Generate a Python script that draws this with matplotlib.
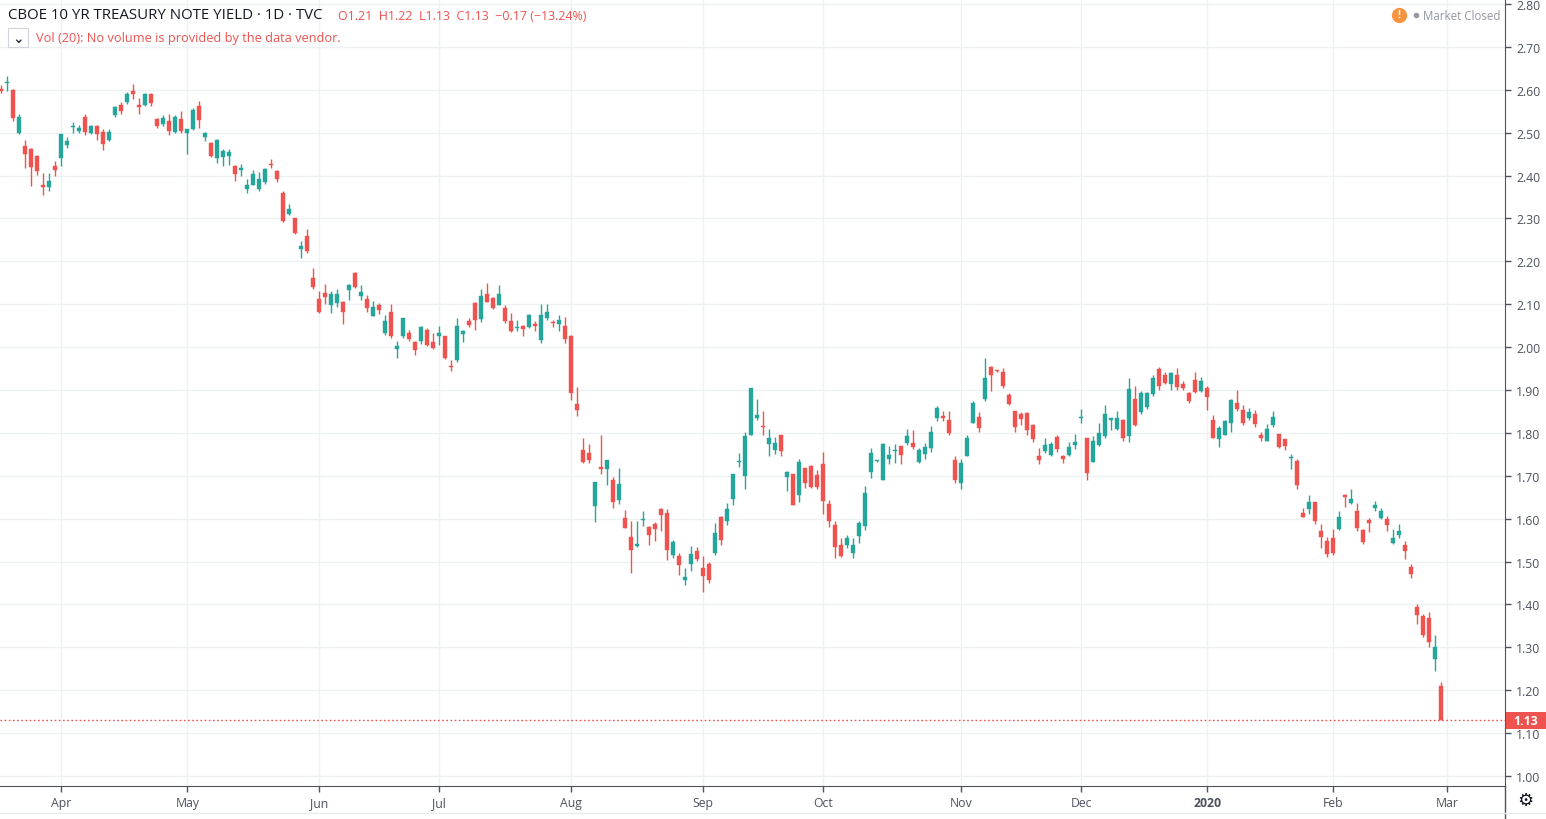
import matplotlib
matplotlib.use("Agg")
import matplotlib.pyplot as plt
import numpy as np

# ---------------- data (daily candles, Mar 2019 - Feb 28 2020) ----------------
opens = [2.602,2.615,2.600,2.500,2.469,2.461,2.446,2.379,2.374,2.422,
         2.440,2.472,2.513,2.505,2.536,2.500,2.516,2.502,2.482,2.540,
         2.565,2.571,2.598,2.564,2.564,2.591,2.531,2.521,2.526,2.502,
         2.531,2.500,2.508,2.562,2.490,2.477,2.440,2.443,2.445,2.422,
         2.412,2.368,2.378,2.368,2.385,2.427,2.410,2.360,2.311,2.300,
         2.229,2.259,2.161,2.112,2.126,2.097,2.103,2.105,2.134,2.172,
         2.120,2.112,2.073,2.097,2.033,2.083,1.995,2.025,2.033,2.012,
         2.015,2.040,2.012,2.025,2.025,1.956,1.970,2.031,2.062,2.103,
         2.066,2.123,2.114,2.098,2.092,2.060,2.044,2.050,2.048,2.053,
         2.017,2.069,2.058,2.055,2.050,2.027,1.867,1.760,1.753,1.630,
         1.720,1.716,1.691,1.644,1.601,1.557,1.537,1.596,1.580,1.587,
         1.623,1.613,1.516,1.514,1.457,1.495,1.525,1.485,1.494,1.520,
         1.605,1.594,1.647,1.732,1.700,1.794,1.834,1.817,1.775,1.759,
         1.795,1.697,1.704,1.654,1.718,1.722,1.701,1.728,1.634,1.586,
         1.539,1.539,1.521,1.559,1.584,1.708,1.734,1.691,1.740,1.757,
         1.769,1.777,1.777,1.732,1.750,1.765,1.834,1.839,1.829,1.736,
         1.683,1.746,1.823,1.837,1.880,1.953,1.945,1.943,1.888,1.851,
         1.843,1.847,1.819,1.747,1.758,1.749,1.790,1.745,1.749,1.772,
         1.834,1.788,1.731,1.772,1.793,1.831,1.809,1.831,1.793,1.880,
         1.848,1.860,1.891,1.950,1.935,1.913,1.935,1.915,1.894,1.924,
         1.898,1.905,1.831,1.785,1.796,1.822,1.870,1.853,1.834,1.845,
         1.796,1.781,1.818,1.798,1.786,1.741,1.734,1.613,1.623,1.638,
         1.572,1.549,1.556,1.577,1.656,1.637,1.619,1.573,1.598,1.626,
         1.601,1.600,1.543,1.562,1.539,1.487,1.395,1.374,1.369,1.272,
         1.210]
highs = [2.612,2.633,2.602,2.544,2.482,2.464,2.449,2.405,2.405,2.433,
         2.498,2.490,2.525,2.519,2.544,2.519,2.517,2.509,2.508,2.562,
         2.571,2.595,2.614,2.580,2.592,2.592,2.533,2.540,2.544,2.540,
         2.550,2.509,2.558,2.574,2.502,2.478,2.485,2.463,2.463,2.425,
         2.428,2.391,2.414,2.408,2.418,2.439,2.412,2.363,2.334,2.301,
         2.247,2.276,2.184,2.130,2.147,2.130,2.136,2.107,2.147,2.175,
         2.145,2.122,2.108,2.103,2.074,2.100,2.014,2.069,2.041,2.014,
         2.050,2.045,2.033,2.049,2.025,1.970,2.068,2.039,2.068,2.105,
         2.135,2.149,2.116,2.145,2.097,2.079,2.063,2.052,2.077,2.061,
         2.100,2.100,2.063,2.074,2.071,2.029,1.906,1.788,1.774,1.685,
         1.795,1.737,1.696,1.718,1.620,1.595,1.595,1.619,1.582,1.593,
         1.626,1.623,1.551,1.521,1.485,1.537,1.533,1.512,1.500,1.591,
         1.607,1.636,1.704,1.753,1.803,1.905,1.878,1.852,1.808,1.790,
         1.796,1.711,1.704,1.738,1.718,1.725,1.714,1.756,1.644,1.595,
         1.556,1.562,1.556,1.594,1.676,1.765,1.736,1.777,1.769,1.773,
         1.769,1.808,1.806,1.765,1.777,1.816,1.863,1.852,1.852,1.746,
         1.738,1.796,1.874,1.848,1.974,1.955,1.946,1.951,1.894,1.852,
         1.848,1.848,1.821,1.764,1.788,1.778,1.796,1.749,1.778,1.797,
         1.856,1.788,1.792,1.823,1.866,1.835,1.851,1.833,1.927,1.909,
         1.898,1.895,1.935,1.953,1.942,1.942,1.951,1.921,1.895,1.943,
         1.931,1.909,1.842,1.816,1.831,1.878,1.900,1.865,1.859,1.853,
         1.803,1.820,1.852,1.798,1.786,1.751,1.738,1.626,1.654,1.638,
         1.588,1.557,1.576,1.619,1.658,1.670,1.637,1.577,1.601,1.642,
         1.625,1.607,1.577,1.587,1.549,1.495,1.402,1.377,1.382,1.328,
         1.220]
lows = [2.592,2.596,2.526,2.498,2.418,2.375,2.402,2.354,2.364,2.400,
        2.423,2.465,2.500,2.500,2.494,2.498,2.482,2.460,2.480,2.536,
        2.544,2.567,2.579,2.544,2.561,2.561,2.512,2.515,2.494,2.500,
        2.500,2.451,2.506,2.511,2.480,2.444,2.429,2.422,2.425,2.387,
        2.400,2.360,2.377,2.363,2.381,2.417,2.385,2.292,2.307,2.263,
        2.208,2.220,2.136,2.079,2.100,2.079,2.093,2.053,2.110,2.137,
        2.110,2.083,2.072,2.078,2.028,2.021,1.975,2.021,2.014,1.981,
        2.007,2.002,1.996,2.006,1.973,1.944,1.966,2.012,2.048,2.041,
        2.059,2.105,2.089,2.097,2.056,2.035,2.038,2.027,2.044,2.038,
        2.009,2.063,2.048,2.038,2.009,1.877,1.840,1.729,1.729,1.592,
        1.704,1.679,1.624,1.634,1.578,1.473,1.533,1.582,1.539,1.547,
        1.572,1.504,1.508,1.469,1.446,1.477,1.502,1.430,1.450,1.515,
        1.539,1.585,1.633,1.720,1.668,1.794,1.829,1.794,1.746,1.750,
        1.746,1.664,1.633,1.640,1.672,1.672,1.668,1.611,1.580,1.508,
        1.510,1.531,1.508,1.543,1.574,1.695,1.733,1.689,1.728,1.730,
        1.728,1.771,1.763,1.730,1.738,1.756,1.828,1.828,1.794,1.682,
        1.670,1.745,1.822,1.803,1.874,1.898,1.943,1.905,1.865,1.802,
        1.819,1.796,1.778,1.727,1.754,1.747,1.756,1.729,1.745,1.762,
        1.822,1.690,1.731,1.770,1.788,1.807,1.806,1.782,1.778,1.815,
        1.845,1.856,1.886,1.899,1.913,1.899,1.899,1.900,1.869,1.894,
        1.895,1.853,1.787,1.767,1.795,1.802,1.851,1.818,1.831,1.813,
        1.781,1.781,1.813,1.765,1.759,1.715,1.668,1.604,1.611,1.588,
        1.531,1.510,1.516,1.574,1.627,1.635,1.572,1.541,1.570,1.619,
        1.600,1.572,1.541,1.556,1.506,1.461,1.354,1.325,1.300,1.245,
        1.130]
closes = [2.598,2.617,2.533,2.536,2.451,2.419,2.410,2.374,2.388,2.412,
          2.498,2.481,2.516,2.511,2.501,2.516,2.496,2.474,2.502,2.560,
          2.550,2.591,2.589,2.560,2.591,2.569,2.516,2.533,2.503,2.536,
          2.504,2.509,2.552,2.529,2.500,2.445,2.482,2.457,2.455,2.403,
          2.418,2.379,2.404,2.392,2.415,2.425,2.391,2.293,2.323,2.267,
          2.236,2.224,2.139,2.081,2.117,2.124,2.124,2.082,2.144,2.139,
          2.128,2.090,2.093,2.087,2.060,2.025,2.002,2.067,2.020,1.993,
          2.048,2.005,1.998,2.033,1.975,1.954,2.050,2.037,2.052,2.063,
          2.118,2.106,2.092,2.123,2.061,2.038,2.046,2.042,2.074,2.050,
          2.074,2.081,2.056,2.063,2.019,1.894,1.854,1.733,1.737,1.685,
          1.716,1.736,1.638,1.680,1.579,1.527,1.541,1.600,1.561,1.576,
          1.609,1.527,1.545,1.491,1.465,1.517,1.506,1.467,1.457,1.566,
          1.551,1.622,1.704,1.734,1.792,1.905,1.842,1.813,1.788,1.777,
          1.757,1.709,1.633,1.733,1.683,1.673,1.673,1.642,1.595,1.534,
          1.513,1.555,1.538,1.591,1.660,1.753,1.736,1.773,1.748,1.759,
          1.748,1.792,1.767,1.760,1.767,1.803,1.857,1.835,1.799,1.691,
          1.730,1.788,1.869,1.811,1.927,1.935,1.944,1.909,1.868,1.814,
          1.833,1.807,1.786,1.737,1.771,1.775,1.763,1.739,1.766,1.778,
          1.837,1.707,1.782,1.800,1.843,1.834,1.835,1.788,1.902,1.819,
          1.894,1.892,1.927,1.909,1.916,1.939,1.908,1.905,1.874,1.895,
          1.921,1.883,1.789,1.812,1.828,1.876,1.856,1.824,1.849,1.820,
          1.787,1.810,1.837,1.768,1.769,1.743,1.679,1.605,1.640,1.594,
          1.557,1.518,1.520,1.603,1.650,1.646,1.578,1.545,1.591,1.633,
          1.617,1.586,1.556,1.571,1.525,1.471,1.375,1.329,1.312,1.300,
          1.130]

month_labels = ["Apr", "May", "Jun", "Jul", "Aug", "Sep", "Oct", "Nov", "Dec", "2020", "Feb", "Mar"]
month_first_bar = [10, 31, 53, 73, 95, 117, 137, 160, 180, 201, 222, 241]
y_ticks = [1.00, 1.10, 1.20, 1.30, 1.40, 1.50, 1.60, 1.70, 1.80, 1.90,
           2.00, 2.10, 2.20, 2.30, 2.40, 2.50, 2.60, 2.70, 2.80]
last_price = 1.13
title_text = "CBOE 10 YR TREASURY NOTE YIELD · 1D · TVC"
ohlc_text = "O1.21  H1.22  L1.13  C1.13  −0.17 (−13.24%)"
vol_text = "Vol (20): No volume is provided by the data vendor."

# ---------------- styling ----------------
UP = "#26a69a"
DOWN = "#ef5350"
GRID = "#eef1f4"
AXC = "#50535e"
TXT = "#4c525e"
FONT = ["Open Sans", "DejaVu Sans"]
plt.rcParams["font.family"] = FONT

W, H = 1546, 820
fig = plt.figure(figsize=(W / 100, H / 100), dpi=100)
fig.patch.set_facecolor("white")

ax_right_px, ax_bottom_px = 1505, 787
ax = fig.add_axes([0, (H - ax_bottom_px) / H, ax_right_px / W, ax_bottom_px / H])

def fy(py):
    return (H - py) / H
def fx(px):
    return px / W

o = np.array(opens); h = np.array(highs); l = np.array(lows); c = np.array(closes)
x = np.arange(len(o))
up = c >= o
cols = np.where(up, UP, DOWN)

ax.vlines(x, l, h, colors=cols, linewidth=1.0, zorder=3)
body_bot = np.minimum(o, c)
body_h = np.maximum(np.abs(c - o), 0.0025)
ax.bar(x, body_h, bottom=body_bot, width=0.68, color=cols, edgecolor=cols,
       linewidth=0.3, zorder=4)

# price line
ax.axhline(last_price, color=DOWN, linestyle=(0, (1.2, 1.8)), linewidth=1.0, zorder=2)

# limits
px_per_bar = 6.0
x0_px = 1.3
ax.set_xlim((0 - x0_px) / px_per_bar, (ax_right_px - x0_px) / px_per_bar)
px_per_unit = 428.9
ax.set_ylim(1.0 - (ax_bottom_px - 777) / px_per_unit, 1.0 + 777 / px_per_unit)

# grid / ticks
ax.set_yticks(y_ticks)
ax.set_yticklabels([f"{v:.2f}" for v in y_ticks])
ax.set_xticks(month_first_bar)
ax.set_xticklabels(month_labels)
ax.grid(True, color=GRID, linewidth=1.0, zorder=0)
ax.set_axisbelow(True)

ax.yaxis.tick_right()
ax.tick_params(axis="y", direction="out", length=4, width=1, color=AXC,
               labelsize=8.8, labelcolor=TXT, pad=4)
ax.tick_params(axis="x", direction="out", length=4, width=1, color=AXC,
               labelsize=8.8, labelcolor=TXT, pad=3)
for lab in ax.get_xticklabels():
    if lab.get_text() == "2020":
        lab.set_fontweight("bold")

for s in ["top", "left"]:
    ax.spines[s].set_visible(False)
ax.spines["right"].set_color(AXC)
ax.spines["bottom"].set_color(AXC)

# extend price-axis line down through time axis area, faint bottom line
fig.add_artist(plt.Line2D([fx(ax_right_px), fx(ax_right_px)], [0, fy(ax_bottom_px)],
                          color=AXC, linewidth=1.0, transform=fig.transFigure))
fig.add_artist(plt.Line2D([0, 1], [fy(814), fy(814)],
                          color="#e8ebee", linewidth=1.0, transform=fig.transFigure))

# last price label on the axis
y_lp = ax.transData.transform((0, last_price))[1]
fig.add_artist(plt.Rectangle((fx(1506), (y_lp - 8.5) / H), fx(40), 17 / H,
                             transform=fig.transFigure, fc=DOWN, ec="none", zorder=10))
fig.text(fx(1526), y_lp / H, f"{last_price:.2f}", fontsize=8.8, fontweight="bold",
         color="white", ha="center", va="center", zorder=11)

# header texts
fig.text(fx(8), fy(15.5), title_text, fontsize=10.8, color="#131722", va="center", ha="left")
fig.text(fx(338), fy(16), ohlc_text, fontsize=8.9, color=DOWN, va="center", ha="left")
fig.text(fx(36), fy(38.5), vol_text, fontsize=9.2, color=DOWN, va="center", ha="left")
# collapse button
fig.add_artist(plt.Rectangle((fx(8), fy(48)), fx(20), 19 / H, transform=fig.transFigure,
                             fc="white", ec="#d1d4dc", lw=0.8))
fig.text(fx(18), fy(39), "⌄", fontsize=10, color="#131722", va="center", ha="center",
         family=["DejaVu Sans"])

# market closed badge
fig.add_artist(plt.Line2D([fx(1399)], [fy(16)], marker="o", markersize=11,
                          markerfacecolor="#f7943f", markeredgecolor="none",
                          transform=fig.transFigure))
fig.text(fx(1399), fy(16), "!", fontsize=7.5, color="white", fontweight="bold",
         va="center", ha="center")
fig.add_artist(plt.Line2D([fx(1416)], [fy(16)], marker="o", markersize=4,
                          markerfacecolor="#9598a1", markeredgecolor="none",
                          transform=fig.transFigure))
fig.text(fx(1423), fy(16), "Market Closed", fontsize=8.3, color="#9598a1",
         va="center", ha="left")

# settings gear
fig.text(fx(1525), fy(801), "⚙", fontsize=13, color="#131722", va="center", ha="center",
         family=["DejaVu Sans"])

fig.savefig("out.png", dpi=100, facecolor="white")
